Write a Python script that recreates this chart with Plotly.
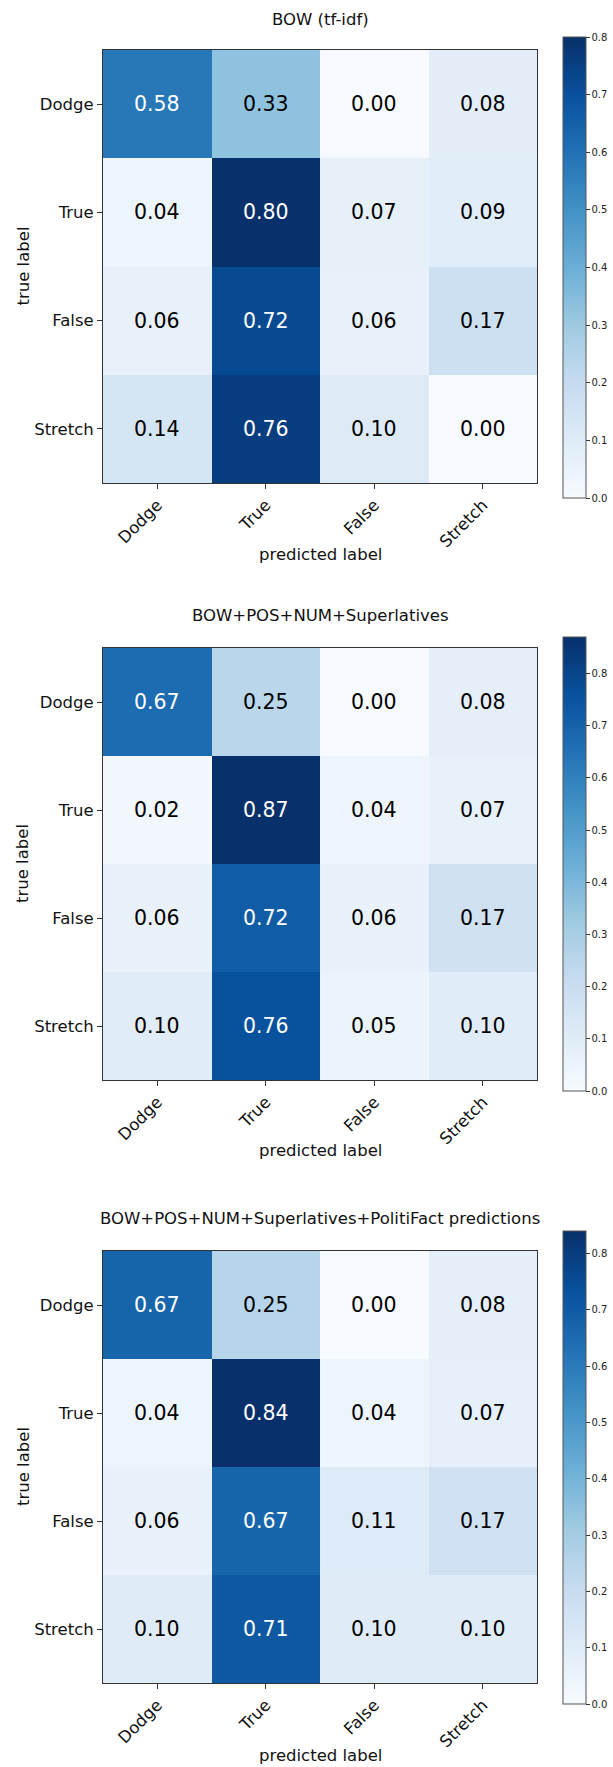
import plotly.graph_objects as go

labels = ["Dodge", "True", "False", "Stretch"]

titles = [
    "BOW (tf-idf)",
    "BOW+POS+NUM+Superlatives",
    "BOW+POS+NUM+Superlatives+PolitiFact predictions",
]

cm_bow = [
    [0.58, 0.33, 0.00, 0.08],
    [0.04, 0.80, 0.07, 0.09],
    [0.06, 0.72, 0.06, 0.17],
    [0.14, 0.76, 0.10, 0.00],
]
cm_bow_pos = [
    [0.67, 0.25, 0.00, 0.08],
    [0.02, 0.87, 0.04, 0.07],
    [0.06, 0.72, 0.06, 0.17],
    [0.10, 0.76, 0.05, 0.10],
]
cm_bow_pf = [
    [0.67, 0.25, 0.00, 0.08],
    [0.04, 0.84, 0.04, 0.07],
    [0.06, 0.67, 0.11, 0.17],
    [0.10, 0.71, 0.10, 0.10],
]
matrices = [cm_bow, cm_bow_pos, cm_bow_pf]

W, H = 613, 1767
FONT = "DejaVu Sans"
blues = [
    [0.0, "#f7fbff"], [0.125, "#deebf7"], [0.25, "#c6dbef"], [0.375, "#9ecae1"],
    [0.5, "#6baed6"], [0.625, "#4292c6"], [0.75, "#2171b5"], [0.875, "#08519c"],
    [1.0, "#08306b"],
]

# pixel layout of each panel
plots = [
    dict(top=50, bot=483, cb_top=37, cb_len=461, title_y=20, xlab_y=555),
    dict(top=648, bot=1080, cb_top=637, cb_len=454, title_y=615, xlab_y=1150),
    dict(top=1251, bot=1683, cb_top=1231, cb_len=473, title_y=1218, xlab_y=1755),
]
PL, PR = 103, 537
CB_X = 563

def px(x):
    return x / W

def py(y):
    return 1 - y / H

fig = go.Figure()
annotations = []
for i, (m, t, g) in enumerate(zip(matrices, titles, plots)):
    n = "" if i == 0 else str(i + 1)
    zmax = max(max(r) for r in m)
    fig.add_trace(go.Heatmap(
        z=m, x=labels, y=labels, xaxis="x" + n, yaxis="y" + n,
        colorscale=blues, zmin=0, zmax=zmax, showscale=True, hoverinfo="skip",
        colorbar=dict(
            x=px(CB_X), xanchor="left", xpad=0, ypad=0,
            y=py(g["cb_top"]), yanchor="top",
            len=g["cb_len"], lenmode="pixels", thickness=23, thicknessmode="pixels",
            outlinecolor="#555555", outlinewidth=1,
            tickmode="linear", tick0=0, dtick=0.1, tickformat=".1f",
            ticks="outside", ticklen=3.5, tickcolor="#333333",
            tickfont=dict(family=FONT, size=10, color="#222222"),
        ),
    ))
    fig.update_layout(**{
        "xaxis" + n: dict(
            domain=[px(PL), px(PR)], anchor="y" + n, tickangle=-45,
            ticks="outside", ticklen=5, tickcolor="#333333",
            showline=True, mirror=True, linecolor="#333333", linewidth=1,
            showgrid=False, zeroline=False,
            tickfont=dict(family=FONT, size=16.5, color="#111111"),
        ),
        "yaxis" + n: dict(
            domain=[py(g["bot"]), py(g["top"])], anchor="x" + n, autorange="reversed",
            ticks="outside", ticklen=5, tickcolor="#333333",
            showline=True, mirror=True, linecolor="#333333", linewidth=1,
            showgrid=False, zeroline=False,
            tickfont=dict(family=FONT, size=16.5, color="#111111"),
        ),
    })
    thresh = zmax / 2
    for r, row in enumerate(m):
        for c, v in enumerate(row):
            annotations.append(dict(
                x=labels[c], y=labels[r], xref="x" + n, yref="y" + n,
                text=f"{v:.2f}", showarrow=False,
                font=dict(family=FONT, size=20.5, color="white" if v > thresh else "black"),
            ))
    annotations.append(dict(
        x=px((PL + PR) / 2), y=py(g["title_y"]), xref="paper", yref="paper",
        text=t, showarrow=False, xanchor="center", yanchor="middle",
        font=dict(family=FONT, size=16.5, color="#111111"),
    ))
    annotations.append(dict(
        x=px((PL + PR) / 2), y=py(g["xlab_y"]), xref="paper", yref="paper",
        text="predicted label", showarrow=False, xanchor="center", yanchor="middle",
        font=dict(family=FONT, size=16.5, color="#111111"),
    ))
    annotations.append(dict(
        x=px(23), y=py((g["top"] + g["bot"]) / 2), xref="paper", yref="paper",
        text="true label", showarrow=False, textangle=-90, xanchor="center", yanchor="middle",
        font=dict(family=FONT, size=16.5, color="#111111"),
    ))

fig.update_layout(
    width=W, height=H, margin=dict(l=0, r=0, t=0, b=0),
    paper_bgcolor="white", plot_bgcolor="white",
    annotations=annotations, showlegend=False,
)
fig.write_html(
    "out.html",
    config={"displayModeBar": False},
    post_script="document.body.style.margin='0';document.body.style.overflow='hidden';",
)
